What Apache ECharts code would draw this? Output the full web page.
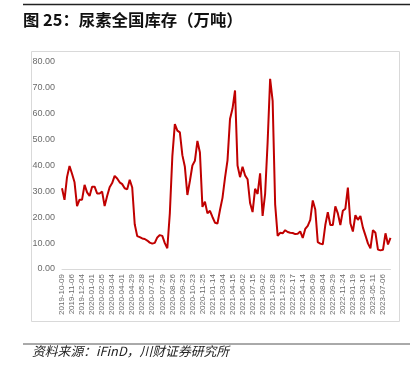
<!DOCTYPE html>
<html>
<head>
<meta charset="utf-8">
<script src="https://cdn.jsdelivr.net/npm/echarts@6/dist/echarts.min.js"></script>
<style>
html,body{margin:0;padding:0;background:#fff;}
#c{width:414px;height:377px;}
</style>
</head>
<body>
<div id="c"></div>
<script>
const titleText = '图 25：尿素全国库存（万吨）';
const sourceText = '资料来源：iFinD，川财证券研究所';

const dates = [
'2019-10-09','2019-10-16','2019-10-23','2019-10-30',
'2019-11-06','2019-11-13','2019-11-20','2019-11-27',
'2019-12-04','2019-12-11','2019-12-18','2019-12-25',
'2020-01-01','2020-01-08','2020-01-15','2020-01-22',
'2020-02-05','2020-02-12','2020-02-19','2020-02-26',
'2020-03-04','2020-03-11','2020-03-18','2020-03-25',
'2020-04-01','2020-04-08','2020-04-15','2020-04-22',
'2020-04-29','2020-05-07','2020-05-14','2020-05-21',
'2020-05-28','2020-06-04','2020-06-11','2020-06-18',
'2020-07-01','2020-07-08','2020-07-15','2020-07-22',
'2020-07-29','2020-08-05','2020-08-12','2020-08-19',
'2020-08-26','2020-09-02','2020-09-09','2020-09-16',
'2020-09-23','2020-09-30','2020-10-09','2020-10-16',
'2020-10-23','2020-10-30','2020-11-06','2020-11-13',
'2020-11-25','2020-12-10','2020-12-24','2021-01-07',
'2021-01-14','2021-01-28','2021-02-09','2021-02-25',
'2021-03-04','2021-03-11','2021-03-25','2021-04-08',
'2021-04-15','2021-04-29','2021-05-13','2021-05-20',
'2021-06-02','2021-06-17','2021-06-24','2021-07-08',
'2021-07-15','2021-07-29','2021-08-12','2021-08-19',
'2021-09-02','2021-09-16','2021-09-30','2021-10-14',
'2021-10-28','2021-11-11','2021-11-25','2021-12-09',
'2021-12-23','2022-01-06','2022-01-20','2022-02-03',
'2022-02-17','2022-03-03','2022-03-17','2022-03-31',
'2022-04-14','2022-04-28','2022-05-12','2022-05-26',
'2022-06-09','2022-06-23','2022-07-07','2022-07-21',
'2022-08-04','2022-08-18','2022-09-01','2022-09-15',
'2022-09-29','2022-10-13','2022-10-27','2022-11-10',
'2022-11-24','2022-12-08','2022-12-22','2023-01-05',
'2023-01-19','2023-02-02','2023-02-16','2023-03-02',
'2023-03-16','2023-03-30','2023-04-13','2023-04-27',
'2023-05-11','2023-05-25','2023-06-08','2023-06-22',
'2023-07-06','2023-07-13','2023-07-20','2023-07-27'
];

const stock = [
31.2,26.7,35.5,39.8,36.8,33.5,24.3,26.8,26.8,32.5,
29.6,28.2,31.8,31.8,29.2,29.2,29.9,24.3,28.2,31.6,
33.2,36.0,35.0,33.5,32.8,31.2,30.8,34.5,31.5,17.3,
12.7,12.3,11.8,11.6,11.0,10.2,9.8,10.1,12.2,13.1,
12.8,10.0,8.0,21.5,43.5,56.0,53.5,52.8,44.0,39.5,
28.6,34.0,40.0,41.8,49.5,45.0,24.0,26.0,21.5,22.5,
20.1,17.9,17.6,22.8,27.5,35.2,42.0,58.0,62.0,69.0,
40.0,35.5,39.5,36.2,34.7,25.5,22.0,31.0,29.0,37.0,
20.5,29.0,49.0,73.5,65.0,25.0,12.8,14.0,13.8,15.0,
14.3,14.0,13.9,13.5,13.6,14.5,12.0,15.5,16.7,19.0,
26.5,23.0,10.4,9.8,9.5,17.0,22.0,17.0,17.0,24.2,
21.5,17.0,22.5,23.3,31.5,17.7,14.5,20.8,19.0,20.5,
16.0,13.0,9.9,8.0,15.0,14.0,7.5,7.2,7.4,13.8,
9.5,12.0
];

const yMin = 0, yMax = 80, yStep = 10;

const chart = echarts.init(document.getElementById('c'), null, {renderer:'canvas'});
chart.setOption({
  animation:false,
  backgroundColor:'#fff',
  grid:{left:62, right:23.5, top:62, bottom:108, containLabel:false},
  xAxis:{
    type:'category',
    data:dates,
    boundaryGap:false,
    axisLine:{show:true, lineStyle:{color:'#d9d9d9', width:1}},
    axisTick:{show:false},
    axisLabel:{interval:3, rotate:90, fontSize:8, color:'#6b6b6b', margin:5,
      fontFamily:'"Liberation Sans", Arial, sans-serif'},
    splitLine:{show:false}
  },
  yAxis:{
    type:'value',
    min:yMin, max:yMax, interval:yStep,
    axisLine:{show:false},
    axisTick:{show:false},
    splitLine:{show:false},
    axisLabel:{fontSize:9, color:'#6b6b6b', margin:7,
      fontFamily:'"Liberation Sans", Arial, sans-serif',
      formatter:function(v){return v.toFixed(2);}}
  },
  series:[{
    type:'line',
    data:stock,
    showSymbol:false,
    symbol:'none',
    lineStyle:{color:'#C00000', width:2},
    itemStyle:{color:'#C00000'}
  }],
  graphic:[
    {type:'line', shape:{x1:23, y1:4.5, x2:410, y2:4.5}, style:{stroke:'#222', lineWidth:1.5}, silent:true},
    {type:'text', left:23, top:12, style:{text:titleText, font:'bold 16.4px "Noto Sans CJK SC", sans-serif', fill:'#111'}, silent:true},
    {type:'rect', shape:{x:31.5, y:51.5, width:368, height:270}, style:{fill:'none', stroke:'#d9d9d9', lineWidth:1}, silent:true, z:-1},
    {type:'line', shape:{x1:23, y1:344, x2:410, y2:344}, style:{stroke:'#555', lineWidth:1}, silent:true},
    {type:'text', left:32, top:345, style:{text:sourceText, font:'italic 12.8px "Noto Sans CJK SC", sans-serif', fill:'#222'}, silent:true}
  ]
});
</script>
</body>
</html>
